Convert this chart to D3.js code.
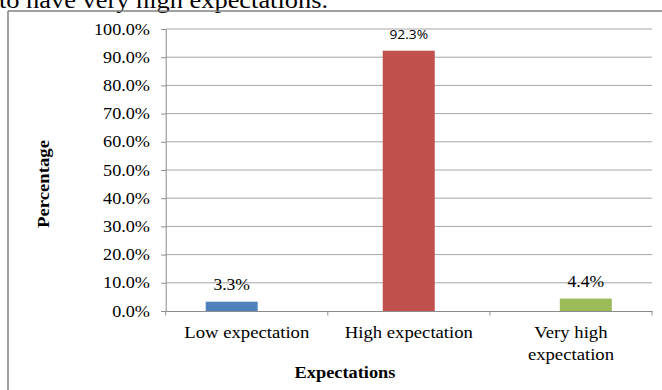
<!DOCTYPE html>
<html>
<head>
<meta charset="utf-8">
<script src="https://cdn.jsdelivr.net/npm/d3@7"></script>
<style>
  body { margin: 0; background: #fff; }
  svg { display: block; }
</style>
</head>
<body>
<svg width="662" height="390"></svg>
<script>
// chart data
var categories = ["Low expectation", "High expectation", "Very high expectation"];
var labelLines = [["Low expectation"], ["High expectation"], ["Very high", "expectation"]];
var values = [0.033, 0.923, 0.044];
var valueLabels = ["3.3%", "92.3%", "4.4%"];
var colors = ["#4f81bd", "#c0504d", "#9bbb59"];
var yTicks = [0, 0.1, 0.2, 0.3, 0.4, 0.5, 0.6, 0.7, 0.8, 0.9, 1.0];

var svg = d3.select("svg");
var serif = "'Liberation Serif', 'Times New Roman', serif";
var sx = 1.1; // text in the picture is a little wide

xScale = d3.scaleBand().domain(categories).range([165.7, 652]);
barScale = d3.scalePoint().domain(categories).range([231.7, 585.8]);
yScale = d3.scaleLinear().domain([0, 1]).range([311, 29]);

function stretchText(g, x, y, txt, size, anchor, weight, family, k) {
    return g.append("text")
        .attr("transform", "translate(" + x + "," + y + ") scale(" + (k || sx) + ",1)")
        .attr("text-anchor", anchor)
        .style("font-family", family || serif)
        .style("font-size", size + "px")
        .style("font-weight", weight || "normal")
        .style("fill", "#000")
        .text(txt);
}

// sentence cut off above the chart
stretchText(svg, -1, 7.5, "to have very high expectations.", 24, "start");

// frame
svg.append("line").attr("x1", 8).attr("x2", 662).attr("y1", 11).attr("y2", 11)
    .style("stroke", "#808080").style("stroke-width", 1.5);
svg.append("line").attr("x1", 8).attr("x2", 8).attr("y1", 11).attr("y2", 390)
    .style("stroke", "#808080").style("stroke-width", 1.5);

// gridlines
svg.selectAll("line.grid").data(yTicks.slice(1)).enter().append("line")
    .attr("class", "grid")
    .attr("x1", 165.7).attr("x2", 652)
    .attr("y1", function (d) { return yScale(d); })
    .attr("y2", function (d) { return yScale(d); })
    .style("stroke", "#a6a6a6").style("stroke-width", 1);

// y axis
yAxis = d3.axisLeft(yScale).tickValues(yTicks).tickSize(4.5).tickPadding(11)
    .tickFormat(function (d) { return (d * 100).toFixed(1) + "%"; });
var yG = svg.append("g").attr("transform", "translate(165.7,0)").call(yAxis);
yG.select(".domain").style("stroke", "#8c8c8c");
yG.selectAll(".tick line").style("stroke", "#8c8c8c");
yG.selectAll(".tick text").remove();
yTicks.forEach(function (t) {
    stretchText(svg, 150, yScale(t) + 5.5, (t * 100).toFixed(1) + "%", 17, "end", "normal", serif, 1.07);
});

// x axis
xAxis = d3.axisBottom(xScale).tickSize(0);
var xG = svg.append("g").attr("transform", "translate(0,311)").call(xAxis);
xG.select(".domain").style("stroke", "#8c8c8c");
xG.selectAll(".tick").remove();
var xTickPos = categories.map(function (c) { return xScale(c); }).concat([xScale.range()[1]]);
svg.selectAll("line.xtick").data(xTickPos).enter().append("line")
    .attr("class", "xtick")
    .attr("x1", function (d) { return d; }).attr("x2", function (d) { return d; })
    .attr("y1", 311).attr("y2", 315.5)
    .style("stroke", "#8c8c8c");

// bars
svg.selectAll("rect.bar").data(values).enter().append("rect")
    .attr("class", "bar")
    .attr("x", function (d, i) { return barScale(categories[i]) - 26; })
    .attr("width", 52)
    .attr("y", function (d) { return yScale(d); })
    .attr("height", function (d) { return yScale(0) - yScale(d); })
    .style("fill", function (d, i) { return colors[i]; });

// value labels
values.forEach(function (v, i) {
    var cx = barScale(categories[i]);
    if (i === 1) {
        stretchText(svg, cx, yScale(v) - 11.5, valueLabels[i], 12, "middle", "normal", "'Open Sans', sans-serif", 1.15);
    } else {
        stretchText(svg, cx, yScale(v) - 11.5, valueLabels[i], 16, "middle");
    }
});

// category labels
labelLines.forEach(function (lines, i) {
    var cx = xScale(categories[i]) + xScale.bandwidth() / 2;
    lines.forEach(function (l, j) {
        stretchText(svg, cx, 337.5 + j * 22.6, l, 17, "middle");
    });
});

// axis titles
stretchText(svg, 345, 378, "Expectations", 17, "middle", "bold", serif, 1.08);
svg.append("text")
    .attr("transform", "translate(49,184) rotate(-90) scale(1.1,1)")
    .attr("text-anchor", "middle")
    .style("font-family", serif)
    .style("font-size", "17px")
    .style("font-weight", "bold")
    .text("Percentage");
</script>
</body>
</html>
